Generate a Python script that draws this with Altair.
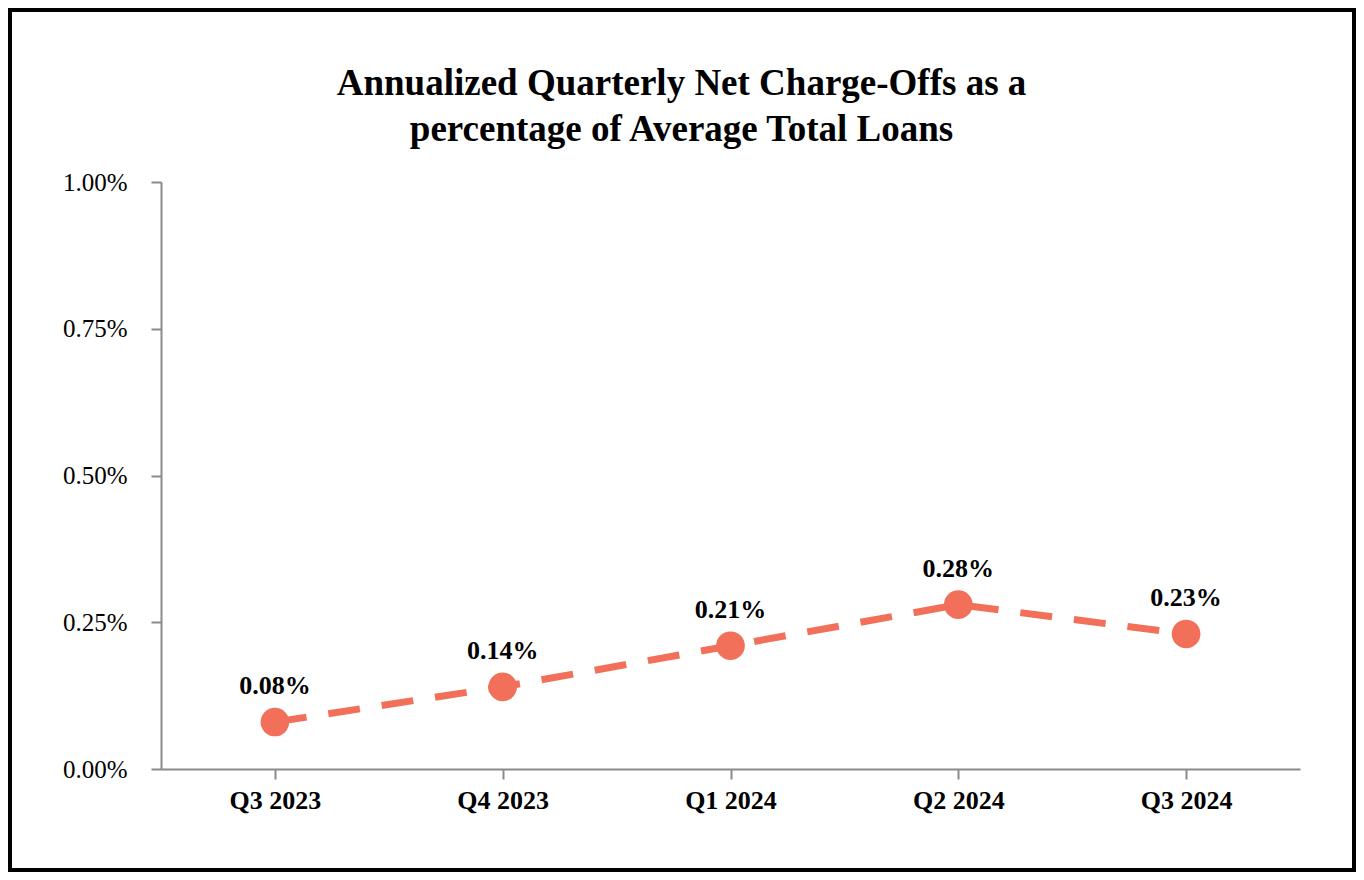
import altair as alt
import pandas as pd

quarters = ["Q3 2023", "Q4 2023", "Q1 2024", "Q2 2024", "Q3 2024"]
values = [0.08, 0.14, 0.21, 0.28, 0.23]
labels = ["0.08%", "0.14%", "0.21%", "0.28%", "0.23%"]
y_ticks = [0, 0.25, 0.5, 0.75, 1.0]

df = pd.DataFrame({"quarter": quarters, "value": values, "label": labels})

W, H = 1139, 587
PL, PT, PR, PB = 153, 174, 56, 103
FONT = "Liberation Serif"
COLOR = "#F2705A"
AXIS_COLOR = "#8a8a8a"

x = alt.X("quarter:N", sort=quarters,
          scale=alt.Scale(type="point", padding=0.5),
          axis=alt.Axis(title=None, labelFont=FONT, labelFontSize=26,
                        labelFontWeight="bold", labelColor="black",
                        labelAngle=0, tickSize=10, labelPadding=8,
                        domainColor=AXIS_COLOR, tickColor=AXIS_COLOR,
                        domainWidth=2, tickWidth=2, grid=False))
y = alt.Y("value:Q", scale=alt.Scale(domain=[0, 1], nice=False),
          axis=alt.Axis(title=None, values=y_ticks,
                        labelExpr="format(datum.value, '.2f') + '%'",
                        labelFont=FONT, labelFontSize=25, labelColor="black",
                        tickSize=10, labelPadding=24,
                        domainColor=AXIS_COLOR, tickColor=AXIS_COLOR,
                        domainWidth=2, tickWidth=2, grid=False))

base = alt.Chart(df)

line = base.mark_line(color=COLOR, strokeWidth=7, strokeDash=[32, 22]).encode(x=x, y=y)
points = base.mark_circle(color=COLOR, size=820, opacity=1).encode(x=x, y=y)
text = base.mark_text(font=FONT, fontSize=26, fontWeight="bold", color="black",
                      dy=-28, baseline="alphabetic").encode(x=x, y=y, text="label:N")

frame = alt.Chart(pd.DataFrame({"f": [0]})).mark_rect(
    filled=False, stroke="black", strokeWidth=4
).encode(
    x=alt.value(-PL + 2), x2=alt.value(W + PR - 2),
    y=alt.value(-PT + 2), y2=alt.value(H + PB - 2)
)

chart = alt.layer(frame, line, points, text).properties(
    width=W, height=H,
    title=alt.TitleParams(
        text=["Annualized Quarterly Net Charge-Offs as a",
              "percentage of Average Total Loans"],
        font=FONT, fontSize=37, fontWeight="bold", color="black",
        lineHeight=46, anchor="middle", dx=-49, offset=-141
    ),
    autosize=alt.AutoSizeParams(type="none"),
    padding={"left": PL, "top": PT, "right": PR, "bottom": PB},
).configure(background="white").configure_view(stroke=None)

chart.save("out.html", embed_options={"renderer": "svg", "actions": False})
